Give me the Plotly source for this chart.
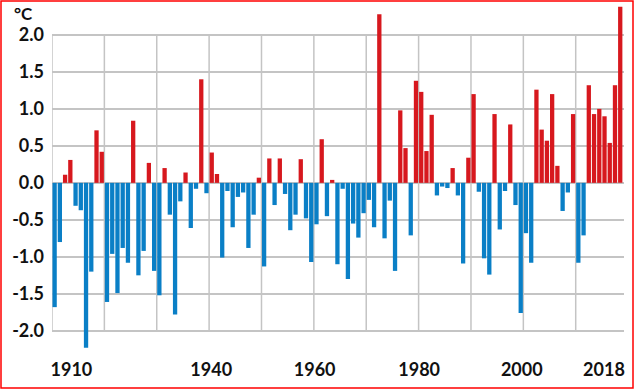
import plotly.graph_objects as go

years = list(range(1910, 2019))
anomaly = [
    # 1910s
    -1.68, -0.80, 0.11, 0.31, -0.31, -0.37, -2.23, -1.20, 0.71, 0.42,
    # 1920s
    -1.61, -0.96, -1.49, -0.88, -1.08, 0.84, -1.25, -0.92, 0.27, -1.19,
    # 1930s
    -1.52, 0.20, -0.43, -1.78, -0.25, 0.14, -0.61, -0.08, 1.40, -0.14,
    # 1940s
    0.41, 0.12, -1.01, -0.11, -0.60, -0.19, -0.13, -0.88, -0.43, 0.07,
    # 1950s
    -1.13, 0.33, -0.30, 0.33, -0.15, -0.64, -0.43, 0.32, -0.48, -1.07,
    # 1960s
    -0.56, 0.59, -0.45, 0.04, -1.10, -0.08, -1.30, -0.55, -0.74, -0.41,
    # 1970s
    -0.23, -0.60, 2.28, -0.75, -0.24, -1.19, 0.98, 0.47, -0.71, 1.38,
    # 1980s
    1.23, 0.43, 0.92, -0.17, -0.05, -0.07, 0.20, -0.17, -1.09, 0.34,
    # 1990s
    1.20, -0.12, -1.02, -1.24, 0.93, -0.63, -0.11, 0.79, -0.30, -1.76,
    # 2000s
    -0.68, -1.08, 1.26, 0.72, 0.57, 1.20, 0.23, -0.38, -0.13, 0.93,
    # 2010s
    -1.08, -0.71, 1.32, 0.93, 1.00, 0.90, 0.54, 1.32, 2.38,
]
y_ticks = [-2.0, -1.5, -1.0, -0.5, 0.0, 0.5, 1.0, 1.5, 2.0]
x_tick_labels = ["1910", "1940", "1960", "1980", "2000", "2018"]
decades = list(range(1910, 2020, 10))

# layout (positions, not data)
x_tick_pos = [1913.2, 1939.9, 1959.65, 1979.6, 1999.2, 2014.9]
RED = "#D7181E"
BLUE = "#0A7FC6"
GRID = "#C4C4C4"
FONT = "Lato"
W, H = 637, 389
ML, MR, MT, MB = 52, 13, 2, 36

colors = [RED if v >= 0 else BLUE for v in anomaly]

fig = go.Figure(go.Bar(x=years, y=anomaly, marker=dict(color=colors, line=dict(width=0)),
                       width=0.82, cliponaxis=False))

shapes = []
for d in decades:
    shapes.append(dict(type="line", xref="x", yref="y", x0=d - 0.5, x1=d - 0.5,
                       y0=y_ticks[0], y1=y_ticks[-1], line=dict(color=GRID, width=1.5),
                       layer="below"))

# red frame around the image (converted from pixel coords to paper coords)
pw = W - ML - MR
ph = H - MT - MB
def px2paper(px, py):
    return (px - ML) / pw, 1 - (py - MT) / ph
x0p, y0p = px2paper(1, 1)
x1p, y1p = px2paper(633, 388)
shapes.append(dict(type="rect", xref="paper", yref="paper", x0=x0p, x1=x1p, y0=y1p, y1=y0p,
                   line=dict(color="#FF0000", width=1.5), layer="above"))

fig.update_layout(
    width=W, height=H,
    margin=dict(l=ML, r=MR, t=MT, b=MB),
    paper_bgcolor="white", plot_bgcolor="white",
    showlegend=False,
    bargap=0.15,
    shapes=shapes,
    font=dict(family=FONT, color="#111111"),
    xaxis=dict(range=[1909.5, 2018.72], showgrid=False, zeroline=False, showline=False,
               tickmode="array", tickvals=x_tick_pos, ticktext=x_tick_labels,
               tickfont=dict(family=FONT, size=18, color="#111111", weight="bold"),
               ticks="", ticklabelstandoff=4, automargin=False),
    yaxis=dict(range=[-2.3, 2.445], showgrid=True, gridcolor=GRID, gridwidth=1.5,
               zeroline=False, showline=False,
               tickmode="array", tickvals=y_ticks, ticktext=[f"{v:.1f}" for v in y_ticks],
               tickfont=dict(family=FONT, size=18, color="#111111", weight="bold"),
               ticks="", ticklabelstandoff=7, automargin=False),
    annotations=[dict(text="°C", xref="paper", yref="paper",
                      x=px2paper(12, 0)[0], y=px2paper(0, 14)[1], xanchor="left", yanchor="middle",
                      showarrow=False, font=dict(family=FONT, size=17, color="#111111", weight="bold"))],
)

fig.write_html("out.html", config={"displayModeBar": False},
               post_script="document.body.style.margin='0';document.body.style.padding='0';document.body.style.overflow='hidden';")
